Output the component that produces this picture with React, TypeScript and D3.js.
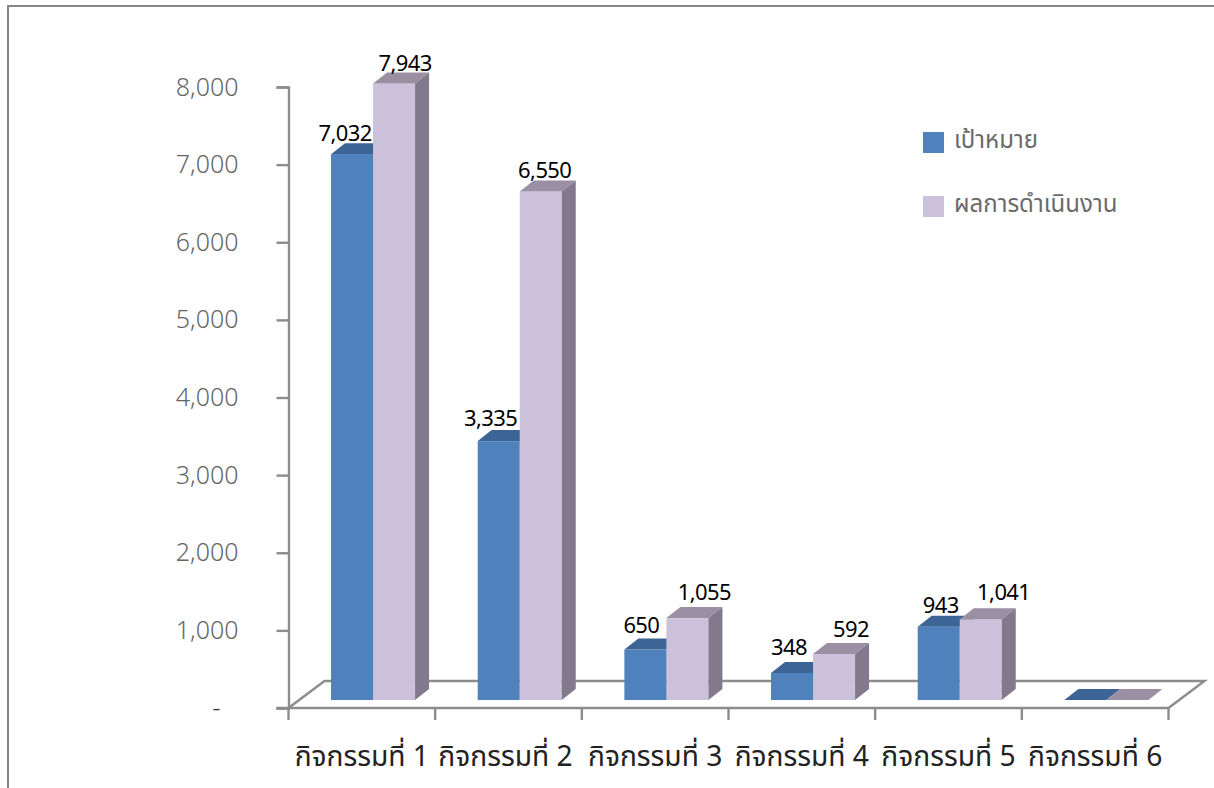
import React, { useEffect, useRef } from "react";
import * as d3 from "d3";

const categories = [
  "กิจกรรมที่ 1",
  "กิจกรรมที่ 2",
  "กิจกรรมที่ 3",
  "กิจกรรมที่ 4",
  "กิจกรรมที่ 5",
  "กิจกรรมที่ 6",
];
const seriesNames = ["เป้าหมาย", "ผลการดำเนินงาน"];
const targetValues = [7032, 3335, 650, 348, 943, 0];
const resultValues = [7943, 6550, 1055, 592, 1041, 0];
const yTicks = [0, 1000, 2000, 3000, 4000, 5000, 6000, 7000, 8000];

const WIDTH = 1214;
const HEIGHT = 788;
const AXIS_X = 288.5;
const AXIS_RIGHT = 1168.5;
const AXIS_TOP = 87;
const AXIS_BOTTOM = 708;
const DEPTH_X = 14;
const DEPTH_Y = 11;
const FLOOR_DX = 36;
const FLOOR_DY = 27;
const BAR_LIFT = 8;
const AXIS_COLOR = "#8c8c8c";
const SANS = "'Noto Sans', 'Noto Sans Thai', 'DejaVu Sans', sans-serif";

const colors = [
  { front: "#4f81bd", top: "#3c6494", side: "#3c6494" },
  { front: "#ccc1da", top: "#9b8fa3", side: "#827a8c" },
];

// data labels were placed by hand in the original, [dx, dy] per bar
const labelNudges = [
  [
    [-7, -13.5],
    [-8, -15],
    [-4, -17],
    [-3, -18],
    [2, -14],
  ],
  [
    [11, -12],
    [4, -14],
    [17, -18],
    [17, -17],
    [23, -19],
  ],
];

export default function App(): JSX.Element {
  const ref = useRef<SVGSVGElement>(null);

  useEffect(() => {
    const svg = d3.select(ref.current);
    svg.selectAll("*").remove();

    const x = d3.scaleBand<string>().domain(categories).range([AXIS_X, AXIS_RIGHT]);
    const inner = d3
      .scaleBand<string>()
      .domain(seriesNames)
      .range([x.step() * 0.29, x.step() * 0.863]);
    const y = d3.scaleLinear().domain([0, 8000]).range([AXIS_BOTTOM, AXIS_TOP]);

    // outer frame
    svg
      .append("path")
      .attr("d", `M8,${HEIGHT} V6 H${WIDTH}`)
      .attr("fill", "none")
      .attr("stroke", "#868686")
      .attr("stroke-width", 2);

    // floor
    svg
      .append("path")
      .attr(
        "d",
        `M${AXIS_X},${AXIS_BOTTOM} L${AXIS_X + FLOOR_DX},${AXIS_BOTTOM - FLOOR_DY} H${AXIS_RIGHT + FLOOR_DX} L${AXIS_RIGHT},${AXIS_BOTTOM}`
      )
      .attr("fill", "none")
      .attr("stroke", AXIS_COLOR)
      .attr("stroke-width", 2.4);

    // y axis
    const yAxis = svg
      .append("g")
      .attr("transform", `translate(${AXIS_X},0)`)
      .call(
        d3
          .axisLeft(y)
          .tickValues(yTicks)
          .tickSize(12)
          .tickPadding(38)
          .tickFormat((d) => (d === 0 ? "-" : d3.format(",")(d as number)))
      );
    yAxis.selectAll("path, line").attr("stroke", AXIS_COLOR).attr("stroke-width", 2.4);
    yAxis
      .selectAll("text")
      .attr("fill", (d) => (d === 0 ? "#333" : "#666"))
      .attr("dx", (d) => (d === 0 ? -18 : 0))
      .style("font-family", "'Noto Sans', sans-serif")
      .style("font-weight", 300)
      .style("font-size", "25px");

    // x axis, ticks sit on the band edges
    const edges = categories.map((c) => x(c) as number).concat(AXIS_RIGHT);
    const xAxis = svg.append("g").attr("transform", `translate(0,${AXIS_BOTTOM})`);
    xAxis
      .append("line")
      .attr("x1", AXIS_X - 12)
      .attr("x2", AXIS_RIGHT)
      .attr("stroke", AXIS_COLOR)
      .attr("stroke-width", 2.4);
    xAxis
      .selectAll("line.tick")
      .data(edges)
      .join("line")
      .attr("class", "tick")
      .attr("x1", (d) => d)
      .attr("x2", (d) => d)
      .attr("y2", 12)
      .attr("stroke", AXIS_COLOR)
      .attr("stroke-width", 2.4);
    xAxis
      .selectAll("text")
      .data(categories)
      .join("text")
      .attr("x", (d) => (x(d) as number) + x.bandwidth() / 2 + (d === categories[1] ? -3 : 0))
      .attr("y", 58)
      .attr("text-anchor", "middle")
      .attr("fill", "#222")
      .style("font-family", SANS)
      .style("font-size", "28.2px")
      .text((d) => d);

    // bars, blue first so the purple one covers its side face
    [targetValues, resultValues].forEach((values, s) => {
      const g = svg.append("g");
      const c = colors[s];
      values.forEach((v, i) => {
        const x0 = (x(categories[i]) as number) + (inner(seriesNames[s]) as number);
        const x1 = x0 + inner.bandwidth();
        const base = y(0) - BAR_LIFT;
        const top = y(v) - BAR_LIFT;
        g.append("rect")
          .attr("x", x0)
          .attr("y", top)
          .attr("width", x1 - x0)
          .attr("height", base - top)
          .attr("fill", c.front);
        g.append("path")
          .attr("d", `M${x0},${top} l${DEPTH_X},${-DEPTH_Y} H${x1 + DEPTH_X} L${x1},${top} Z`)
          .attr("fill", c.top);
        g.append("path")
          .attr("d", `M${x1},${top} l${DEPTH_X},${-DEPTH_Y} V${base - DEPTH_Y} L${x1},${base} Z`)
          .attr("fill", c.side);
      });
    });

    // data labels on top of every bar
    [targetValues, resultValues].forEach((values, s) => {
      values.forEach((v, i) => {
        if (v === 0) return;
        const x0 = (x(categories[i]) as number) + (inner(seriesNames[s]) as number);
        const [dx, dy] = labelNudges[s][i];
        svg
          .append("text")
          .attr("x", x0 + inner.bandwidth() / 2 + dx)
          .attr("y", y(v) - BAR_LIFT + dy)
          .attr("text-anchor", "middle")
          .attr("fill", "#000")
          .style("font-family", SANS)
          .style("font-size", "22px")
          .style("letter-spacing", "-0.6px")
          .text(d3.format(",")(v));
      });
    });

    // legend
    const legendY = d3.scalePoint<string>().domain(seriesNames).range([142.5, 206.5]);
    seriesNames.forEach((name, s) => {
      const cy = legendY(name) as number;
      svg
        .append("rect")
        .attr("x", 923)
        .attr("y", cy - 10.5)
        .attr("width", 21)
        .attr("height", 21)
        .attr("fill", colors[s].front);
      svg
        .append("text")
        .attr("x", 954)
        .attr("y", cy + 5)
        .attr("fill", "#6a6a6a")
        .style("font-family", SANS)
        .style("font-size", "24px")
        .text(name);
    });
  }, []);

  return (
    <svg
      ref={ref}
      width={WIDTH}
      height={HEIGHT}
      style={{ position: "absolute", left: 0, top: 0, background: "#fff" }}
    />
  );
}
